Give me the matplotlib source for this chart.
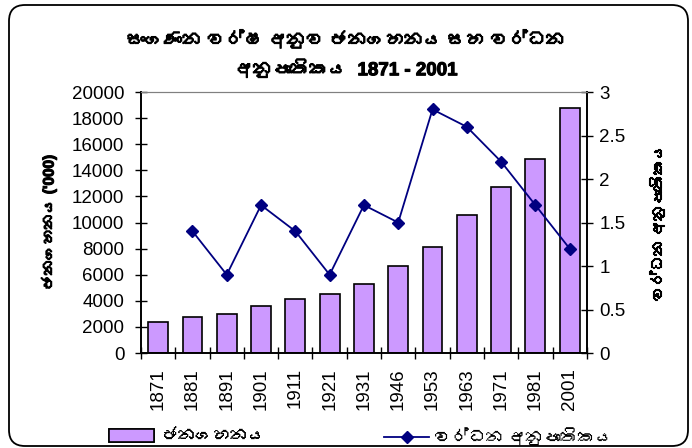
import numpy as np
import matplotlib
matplotlib.use("Agg")
import matplotlib.pyplot as plt
from matplotlib import font_manager, ft2font
from matplotlib import patheffects
from matplotlib.patches import FancyBboxPatch, Patch
from matplotlib.lines import Line2D
from matplotlib.transforms import IdentityTransform

years = ['1871', '1881', '1891', '1901', '1911', '1921', '1931',
         '1946', '1953', '1963', '1971', '1981', '2001']
population = [2400, 2760, 3008, 3566, 4106, 4498, 5307,
              6657, 8098, 10582, 12690, 14847, 18797]
growth_rate = [np.nan, 1.4, 0.9, 1.7, 1.4, 0.9, 1.7,
               1.5, 2.8, 2.6, 2.2, 1.7, 1.2]

title_text = 'සංගණන වර්ෂ අනුව ජනගහනය සහ වර්ධන\nඅනුපාතිකය  1871 - 2001'
left_label = "ජනගහනය ('000)"
right_label = 'වර්ධන අනුපාතිකය'
bar_label = 'ජනගහනය'
line_label = 'වර්ධන අනුපාතිකය'


def find_sinhala_font():
    # look for any installed font that has Sinhala glyphs
    for f in font_manager.fontManager.ttflist:
        try:
            if 0x0DC3 in ft2font.FT2Font(f.fname).get_charmap():
                return f.name
        except Exception:
            continue
    return None


sin_font = find_sinhala_font()
families = ['Liberation Sans', 'DejaVu Sans']
if sin_font:
    families = ['Liberation Sans', sin_font, 'DejaVu Sans']
plt.rcParams['font.family'] = families

# the sinhala font has no bold face, so thicken it with a stroke
fake_bold = [patheffects.withStroke(linewidth=0.8, foreground='black')]

fig = plt.figure(figsize=(6.92, 4.48), dpi=100)
ax = fig.add_axes([0.2038, 0.212, 0.6442, 0.5826])
ax2 = ax.twinx()

x = np.arange(len(years))
ax.bar(x, population, width=0.58, color='#CC99FF', edgecolor='black', linewidth=1.2, zorder=2)
ax2.plot(x, growth_rate, color='#000080', marker='D', markersize=6, linewidth=1.3, zorder=3)

ax.set_xlim(-0.5, len(years) - 0.5)
ax.set_ylim(0, 20000)
ax.set_yticks(np.arange(0, 20001, 2000))
ax2.set_ylim(0, 3)
ax2.set_yticks([0, 0.5, 1, 1.5, 2, 2.5, 3])
ax2.set_yticklabels(['0', '0.5', '1', '1.5', '2', '2.5', '3'])

ax.set_xticks(x)
ax.set_xticklabels(years, rotation=90)
ax.set_xticks(np.arange(-0.5, len(years)), minor=True)
ax.tick_params(axis='x', which='major', length=0, pad=11, labelsize=13.5)
ax.tick_params(axis='x', which='minor', direction='inout', length=8, width=1)
ax.tick_params(axis='y', direction='inout', length=8, width=1, labelsize=13.5, pad=8)
ax2.tick_params(axis='y', direction='inout', length=8, width=1, labelsize=13.5, pad=5)

for a in (ax, ax2):
    a.spines['top'].set_color('#808080')
    a.spines['left'].set_linewidth(1.2)
    a.spines['right'].set_linewidth(1.2)
    a.spines['bottom'].set_linewidth(1.2)

ax.set_ylabel(left_label, fontsize=11, fontweight='bold', labelpad=11,
              path_effects=fake_bold)
ax2.set_ylabel(right_label, fontsize=11, fontweight='bold', rotation=90, labelpad=17,
               path_effects=fake_bold)

fig.text(0.5, 0.878, title_text, ha='center', va='center', fontsize=13.5,
         fontweight='bold', linespacing=1.6, path_effects=fake_bold)

h1 = Patch(facecolor='#CC99FF', edgecolor='black', linewidth=1.2)
h2 = Line2D([], [], color='#000080', marker='D', markersize=6, linewidth=1.3)
leg1 = fig.legend([h1], [bar_label], loc='center left', bbox_to_anchor=(0.158, 0.026),
                  frameon=False, fontsize=12.5, handlelength=2.6, handleheight=0.8,
                  handletextpad=0.4, borderpad=0, borderaxespad=0)
fig.legend([h2], [line_label], loc='center left', bbox_to_anchor=(0.555, 0.026),
           frameon=False, fontsize=12.5, handlelength=2.6, handletextpad=0.3,
           borderpad=0, borderaxespad=0)
fig.add_artist(leg1)

frame = FancyBboxPatch((9, 2), 679, 441, boxstyle='round,pad=0,rounding_size=16',
                       transform=IdentityTransform(), facecolor='none',
                       edgecolor='black', linewidth=1.3)
fig.add_artist(frame)

fig.savefig('out.png', dpi=100)
